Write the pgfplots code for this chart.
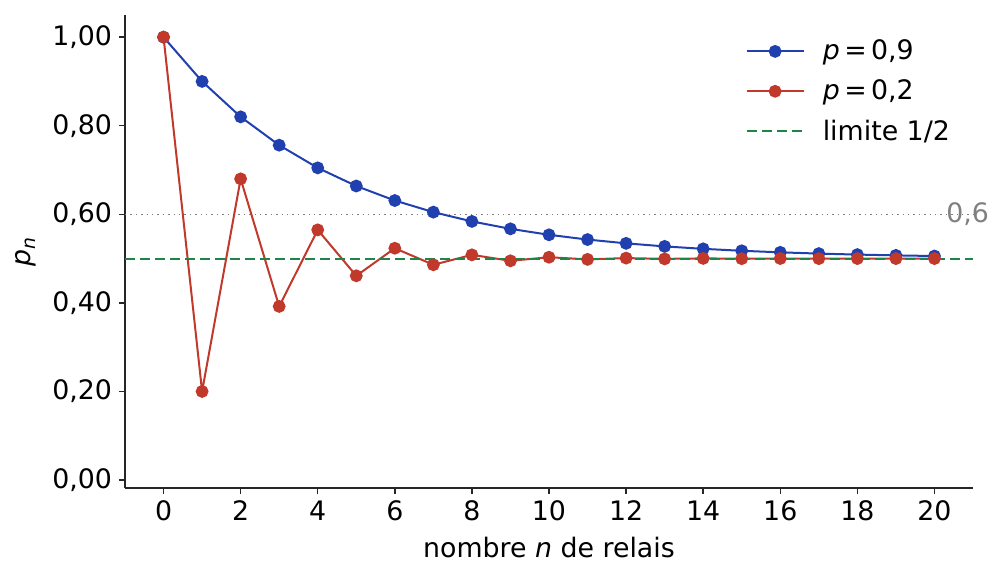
\documentclass[border=0pt]{standalone}
\usepackage{fontspec}
\setmainfont{DejaVu Sans}
\usepackage{pgfplots}
\pgfplotsset{compat=1.18}
\usetikzlibrary{calc}

\definecolor{cblue}{HTML}{2040B0}
\definecolor{cred}{HTML}{C0392B}
\definecolor{cgreen}{HTML}{1E8449}
\definecolor{cgray}{HTML}{808080}

\pgfplotstableread{
n   a         b
0   1.000000  1.000000
1   0.900000  0.200000
2   0.820000  0.680000
3   0.756000  0.392000
4   0.704800  0.564800
5   0.663840  0.461120
6   0.631072  0.523328
7   0.604858  0.486003
8   0.583886  0.508398
9   0.567109  0.494961
10  0.553687  0.503023
11  0.542950  0.498186
12  0.534360  0.501088
13  0.527488  0.499347
14  0.521990  0.500392
15  0.517592  0.499765
16  0.514074  0.500141
17  0.511259  0.499915
18  0.509007  0.500051
19  0.507206  0.499970
20  0.505765  0.500018
}\relais

\begin{document}
\begin{tikzpicture}
\begin{axis}[
    name=ax,
    scale only axis,
    width=424pt, height=236.5pt,
    xmin=-1, xmax=21,
    ymin=-0.018, ymax=1.05,
    axis lines*=left,
    axis line style={line width=0.7pt, black!85},
    tick align=outside,
    tick style={line width=0.7pt, black!85},
    major tick length=3pt,
    xtick={0,2,...,20},
    ytick={0,0.2,0.4,0.6,0.8,1.0},
    yticklabel style={/pgf/number format/.cd, fixed, fixed zerofill, precision=2, use comma},
    /pgf/number format/assume math mode=true,
    font=\fontsize{13.4}{16}\selectfont,
    ticklabel style={font=\fontsize{13.4}{16}\selectfont},
    xlabel={nombre \textit{n} de relais},
    ylabel={\textit{p}\textsubscript{\textit{n}}},
    xlabel style={yshift=-1pt},
    ylabel style={yshift=1pt},
    clip=false,
    legend style={draw=none, fill=none, at={(0.985,0.965)}, anchor=north east,
        legend cell align=left, row sep=4.5pt,
        font=\fontsize{13.4}{16}\selectfont},
    legend image code/.code={
        \draw[mark repeat=2, mark phase=2] plot coordinates {(0cm,0cm) (0.5cm,0cm) (1cm,0cm)};
        \path (1.25cm,0cm);
    },
]
\addplot[cgray, dotted, line width=0.7pt, forget plot] coordinates {(-1,0.6) (21,0.6)};
\addplot[cblue, line width=1pt, mark=*, mark size=2.7pt] table[x=n, y=a] {\relais};
\addlegendentry{\textit{p}\,=\,0,9}
\addplot[cred, line width=1pt, mark=*, mark size=2.7pt] table[x=n, y=b] {\relais};
\addlegendentry{\textit{p}\,=\,0,2}
\addplot[cgreen, line width=1pt, dash pattern=on 5pt off 2.5pt] coordinates {(-1,0.5) (21,0.5)};
\addlegendentry{limite 1/2}
\node[anchor=west, text=cgray, inner sep=0pt, font=\fontsize{13.4}{16}\selectfont] at (axis cs:20.3,0.6) {0,6};
\end{axis}
\path ($(ax.south west)+(-62.5pt,-46.5pt)$) rectangle ($(ax.north east)+(16pt,7.5pt)$);
\end{tikzpicture}
\end{document}
